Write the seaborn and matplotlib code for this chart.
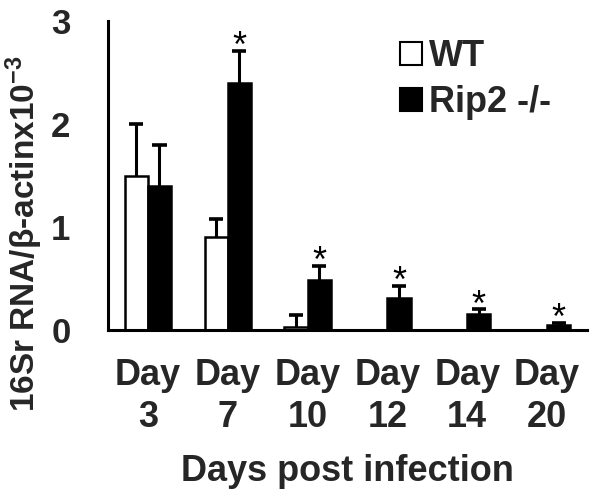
import matplotlib
matplotlib.use("Agg")
import matplotlib.pyplot as plt
import seaborn as sns
import pandas as pd
import numpy as np
from matplotlib.patches import Rectangle

days = ["Day\n3", "Day\n7", "Day\n10", "Day\n12", "Day\n14", "Day\n20"]
groups = ["WT", "Rip2 -/-"]
wt_mean = [1.5, 0.9, 0.03, 0.0, 0.0, 0.0]
wt_err = [0.5, 0.18, 0.12, 0.0, 0.0, 0.0]
rip_mean = [1.4, 2.4, 0.49, 0.31, 0.155, 0.05]
rip_err = [0.4, 0.31, 0.13, 0.12, 0.045, 0.02]
signif = [False, True, True, True, True, True]
ylabel = "16Sr RNA/β-actinx10$^{-3}$"
xlabel = "Days post infection"

sns.set_theme(style="white")
plt.rcParams['font.family'] = ['Liberation Sans', 'DejaVu Sans']
plt.rcParams['mathtext.fontset'] = 'custom'
plt.rcParams['mathtext.rm'] = 'Liberation Sans:bold'
plt.rcParams['mathtext.default'] = 'rm'

df = pd.DataFrame({
    "day": days * 2,
    "group": [groups[0]] * 6 + [groups[1]] * 6,
    "value": wt_mean + rip_mean,
})

fig = plt.figure(figsize=(6.02, 5.01), dpi=100)
ax = fig.add_axes([108 / 602, 1 - 330 / 501, 479 / 602, 309 / 501])

sns.barplot(data=df, x="day", y="value", hue="group", order=days, hue_order=groups,
            palette={groups[0]: "white", groups[1]: "black"}, edgecolor="black",
            linewidth=1.8, width=0.58, gap=0, errorbar=None, legend=False, ax=ax)

bw = 0.29
x = np.arange(len(days))
for means, errs, off in [(wt_mean, wt_err, -bw / 2), (rip_mean, rip_err, bw / 2)]:
    for xi, m, e in zip(x, means, errs):
        if e > 0:
            ax.vlines(xi + off, m, m + e, color="black", lw=2.2, zorder=3)
            ax.hlines(m + e, xi + off - 0.088, xi + off + 0.088, color="black", lw=2.6, zorder=3)

for xi, m, e, s in zip(x, rip_mean, rip_err, signif):
    if s:
        ax.text(xi + bw / 2, m + e - 0.06, "*", ha="center", va="baseline",
                fontsize=26, color="black", family="Liberation Sans")

ax.set_xlim(-0.5, 5.5)
ax.set_ylim(0, 3)
ax.set_yticks([0, 1, 2, 3])
ax.set_yticklabels(["0", "1", "2", "3"])
ax.set_xticks(x)
ax.set_xticklabels(days, fontsize=26, fontweight="bold", linespacing=1.25)
ax.set_xticks(np.arange(-0.5, 6, 1), minor=True)
ax.tick_params(axis="x", which="major", length=0, pad=20)
ax.tick_params(axis="x", which="minor", length=10, width=2.2, direction="out", color="black")
ax.tick_params(axis="y", length=11, width=2.2, direction="out", color="black", labelsize=25, pad=16)
for lab in ax.get_yticklabels():
    lab.set_fontweight("bold")
for lab in ax.get_xticklabels():
    lab.set_fontweight("bold")

sns.despine(ax=ax)
for sp in ["left", "bottom"]:
    ax.spines[sp].set_linewidth(2.2)
    ax.spines[sp].set_color("black")

ax.set_xlabel(xlabel, fontsize=26, fontweight="bold", labelpad=14)
ax.set_ylabel(ylabel, fontsize=24, fontweight="bold")
ax.yaxis.set_label_coords(-0.132, 0.31)

handles = [Rectangle((0, 0), 1, 1, facecolor="white", edgecolor="black", lw=1.5),
           Rectangle((0, 0), 1, 1, facecolor="black", edgecolor="black", lw=1.5)]
fig.legend(handles, groups, loc="upper left", bbox_to_anchor=(400 / 602, 1 - 39 / 501),
           bbox_transform=fig.transFigure, frameon=False, borderpad=0, borderaxespad=0,
           handlelength=0.6, handleheight=0.6, handletextpad=0.2, labelspacing=0.3,
           prop={"size": 26, "weight": "bold"})

fig.savefig("out.png", dpi=100)
